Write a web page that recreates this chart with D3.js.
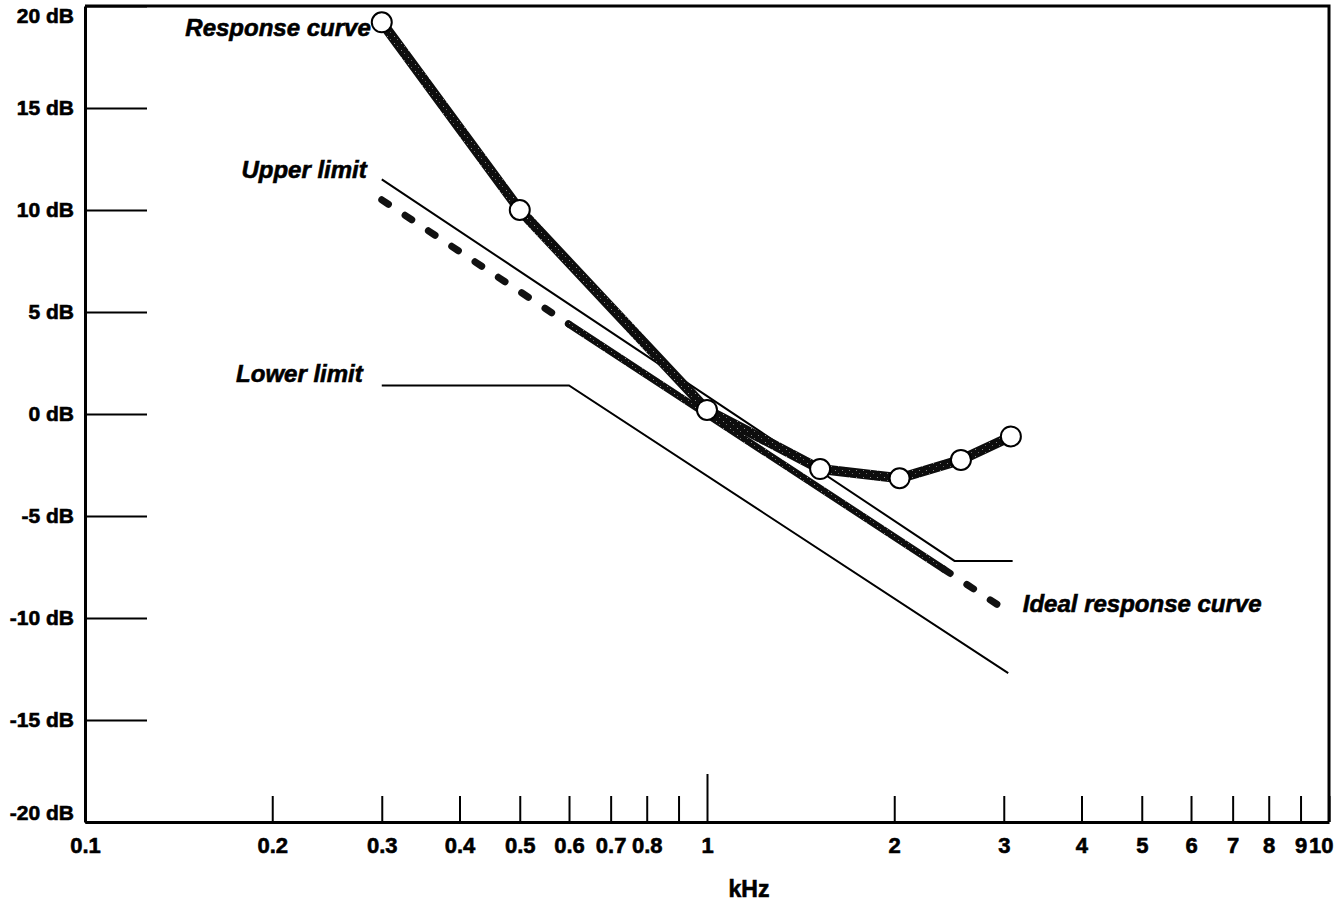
<!DOCTYPE html>
<html>
<head>
<meta charset="utf-8">
<script src="https://cdn.jsdelivr.net/npm/d3@7"></script>
<style>
  body { margin: 0; background: #fff; }
  svg text { font-family: "Liberation Sans", Arial, Helvetica, sans-serif; font-weight: bold; fill: #000; }
</style>
</head>
<body>
<svg id="chart" width="1344" height="908"></svg>
<script>
// data (kHz / dB)
var respFreq = [0.3, 0.5, 1.0, 1.52, 2.04, 2.56, 3.08],
    respDb   = [19.2, 10.0, 0.2, -2.7, -3.15, -2.25, -1.1];
var idealFreq = [0.3, 0.6, 2.4, 3.0],
    idealDb   = [10.5, 4.4, -7.6, -9.55],
    idealDash = [true, false, true];   // style of each segment
var upperFreq = [0.3, 2.5, 3.1],
    upperDb   = [11.5, -7.2, -7.2];
var lowerFreq = [0.3, 0.6, 3.05],
    lowerDb   = [1.4, 1.4, -12.7];
var yTicks  = [20, 15, 10, 5, 0, -5, -10, -15, -20];
var xTicks  = [0.1, 0.2, 0.3, 0.4, 0.5, 0.6, 0.7, 0.8, 0.9, 1, 2, 3, 4, 5, 6, 7, 8, 9, 10];
var xLabels = ["0.1", "0.2", "0.3", "0.4", "0.5", "0.6", "0.7", "0.8", "", "1", "2", "3", "4", "5", "6", "7", "8", "9", "10"];
var names = ["Response curve", "Upper limit", "Lower limit", "Ideal response curve"];

//layout
var area = { left: 85, right: 1329, top: 6, bottom: 822 };
var x = d3.scaleLog().domain([0.1, 10]).range([area.left, area.right]),
    y = d3.scaleLinear().domain([-20, 20]).range([area.bottom, area.top]);

var svg = d3.select("#chart");

// speckled ink for the heavy strokes
var pat = svg.append("defs").append("pattern").attr("id", "ink")
  .attr("patternUnits", "userSpaceOnUse").attr("width", 7).attr("height", 7);
pat.append("rect").attr("width", 7).attr("height", 7).attr("fill", "#0d0d0d");
pat.append("rect").attr("x", 2).attr("y", 1).attr("width", 1).attr("height", 1).attr("fill", "#8a8a8a");
pat.append("rect").attr("x", 5).attr("y", 4).attr("width", 1).attr("height", 1).attr("fill", "#6a6a6a");

function pts(fs, ds) { return fs.map(function(f, i) { return [x(f), y(ds[i])]; }); }
var line = d3.line();

// limits (thin)
svg.append("path").attr("d", line(pts(lowerFreq, lowerDb)))
   .attr("fill", "none").attr("stroke", "#000").attr("stroke-width", 2);
svg.append("path").attr("d", line(pts(upperFreq, upperDb)))
   .attr("fill", "none").attr("stroke", "#000").attr("stroke-width", 2);

// ideal response curve
var ip = pts(idealFreq, idealDb);
for (var k = 0; k < idealDash.length; k++) {
  var seg = svg.append("path").attr("d", line([ip[k], ip[k + 1]]))
    .attr("fill", "none").attr("stroke-linecap", "round");
  if (idealDash[k]) {
    seg.attr("stroke", "#111").attr("stroke-width", 7).attr("stroke-dasharray", "8 20");
  } else {
    seg.attr("stroke", "url(#ink)").attr("stroke-width", 7);
  }
}

// measured response
var rp = pts(respFreq, respDb);
svg.append("path").attr("d", line(rp))
   .attr("fill", "none").attr("stroke", "url(#ink)").attr("stroke-width", 10)
   .attr("stroke-linejoin", "round").attr("stroke-linecap", "round");
svg.selectAll("circle.pt").data(rp).enter().append("circle").attr("class", "pt")
   .attr("cx", function(d) { return d[0]; }).attr("cy", function(d) { return d[1]; })
   .attr("r", 10).attr("fill", "#fff").attr("stroke", "#000").attr("stroke-width", 2);

// axes
var gy = svg.append("g").attr("transform", "translate(" + area.left + ",0)")
  .call(d3.axisLeft(y).tickValues(yTicks).tickSize(-62).tickSizeOuter(0).tickPadding(11)
          .tickFormat(function(d) { return d + " dB"; }));
gy.attr("font-size", 21).attr("font-family", null);
gy.selectAll(".tick line").attr("stroke-width", 2);
gy.selectAll(".tick text").attr("dy", function(d) { return d == 20 ? "0.78em" : (d == -20 ? "-0.1em" : "0.33em"); });

var gx = svg.append("g").attr("transform", "translate(0," + area.bottom + ")")
  .call(d3.axisBottom(x).tickValues(xTicks).tickSize(-26).tickSizeOuter(0).tickPadding(15)
          .tickFormat(function(d) { return xLabels[xTicks.indexOf(d)]; }));
gx.attr("font-size", 22).attr("font-family", null);
gx.selectAll(".tick line").attr("stroke-width", 2)
  .attr("y2", function(d) { return d == 1 ? -48 : -26; });
gx.selectAll(".tick text").filter(function(d) { return d == 10; })
  .attr("text-anchor", "end").attr("x", 4);

[gx, gy].forEach(function(g) {
  g.select(".domain").attr("stroke-width", 3);
  g.selectAll("text").attr("stroke", "#000").attr("stroke-width", 0.6);
});

// frame top / right
svg.append("path")
   .attr("d", line([[x(0.1), y(20)], [x(10), y(20)], [x(10), y(-20)]]))
   .attr("fill", "none").attr("stroke", "#000").attr("stroke-width", 3);

svg.append("text").attr("x", (x(0.1) + x(10)) / 2 + 42).attr("y", 897)
   .attr("text-anchor", "middle").attr("font-size", 23)
   .attr("stroke", "#000").attr("stroke-width", 0.6).text("kHz");

// curve names
var tags = [
  { t: names[0], px: rp[0][0] - 11, py: rp[0][1] + 14, a: "end" },
  { t: names[1], px: x(upperFreq[0]) - 15, py: y(upperDb[0]) - 1, a: "end" },
  { t: names[2], px: x(lowerFreq[0]) - 19, py: y(lowerDb[0]) - 3, a: "end" },
  { t: names[3], px: x(idealFreq[3]) + 19, py: y(idealDb[3]) + 3, a: "start" }
];
svg.selectAll("text.tag").data(tags).enter().append("text").attr("class", "tag")
   .attr("x", function(d) { return d.px; }).attr("y", function(d) { return d.py; })
   .attr("text-anchor", function(d) { return d.a; })
   .attr("font-size", 24).attr("font-style", "italic")
   .attr("stroke", "#000").attr("stroke-width", 0.6)
   .text(function(d) { return d.t; });
</script>
</body>
</html>
